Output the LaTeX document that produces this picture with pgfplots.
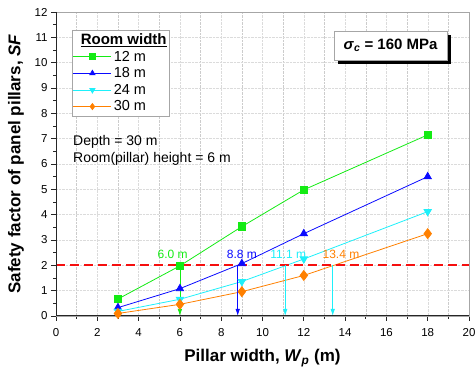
\documentclass[border=0pt]{standalone}
\usepackage{pgfplots}
\pgfplotsset{compat=1.18}
\usepackage{fontspec}
\setmainfont{Liberation Sans}
\usetikzlibrary{arrows.meta,shadows}
\definecolor{cgreen}{RGB}{20,235,20}
\definecolor{cblue}{RGB}{10,10,255}
\definecolor{ccyan}{RGB}{30,240,250}
\definecolor{corange}{RGB}{255,128,0}
\definecolor{cred}{RGB}{245,15,15}
\begin{document}
\begin{tikzpicture}
\begin{axis}[
  name=ax, set layers,
  scale only axis, width=413pt, height=304pt,
  xmin=0, xmax=20, ymin=0, ymax=12,
  xtick={0,2,...,20}, ytick={0,1,...,12},
  minor x tick num=1, minor y tick num=1,
  xmajorgrids, xminorgrids, ymajorgrids,
  tick align=outside, xtick pos=left, ytick pos=left,
  major tick length=5pt, minor tick length=3pt,
  major tick style={black!85, line width=0.8pt},
  minor tick style={black!85, line width=0.8pt},
  major grid style={densely dotted, draw=gray!28, line width=0.4pt},
  minor grid style={densely dotted, draw=gray!40, line width=0.4pt},
  axis line style={gray!70, line width=0.6pt},
  ticklabel style={font=\fontsize{11.5}{13}\selectfont},
  xticklabel style={yshift=-4pt},
  /pgf/number format/assume math mode=true,
  xlabel={Pillar width, \textit{W}\textsubscript{\textit{p}} (m)},
  ylabel={Safety factor of panel pillars, \textit{SF}},
  label style={font=\fontsize{17}{20}\selectfont\bfseries},
  xlabel style={yshift=-6pt},
  ylabel style={yshift=4pt},
  legend style={at={(axis cs:0.76,11.3)}, anchor=north west, draw=gray!70, line width=0.6pt,
    font=\fontsize{14.5}{17}\selectfont, cells={anchor=west}, row sep=1pt,
    inner xsep=1pt, inner ysep=1.5pt},
  legend image code/.code={\draw[mark repeat=2,mark phase=2,mark size=3pt,#1] plot coordinates {(0pt,0pt) (19pt,0pt) (38pt,0pt)};},
]
\addlegendimage{empty legend}
\addlegendentry{\hspace{-33pt}{\fontsize{15}{17}\selectfont\textbf{\underline{Room width}}}}

\addplot[cgreen, line width=0.8pt, mark=square*, mark size=3.8pt, mark options={solid, fill=cgreen}]
  coordinates {(3,0.67) (6,1.98) (9,3.53) (12,4.98) (18,7.15)};
\addlegendentry{12 m}
\addplot[cblue, line width=0.8pt, mark=triangle*, mark size=4.2pt, mark options={solid, fill=cblue}]
  coordinates {(3,0.33) (6,1.08) (9,2.07) (12,3.25) (18,5.5)};
\addlegendentry{18 m}
\addplot[ccyan, line width=0.8pt, mark=triangle*, mark size=4.2pt, mark options={solid, fill=ccyan, rotate=180}]
  coordinates {(3,0.18) (6,0.66) (9,1.36) (12,2.25) (18,4.12)};
\addlegendentry{24 m}
\addplot[corange, line width=0.8pt, mark=diamond*, mark size=5pt, mark options={solid, fill=corange}]
  coordinates {(3,0.1) (6,0.46) (9,0.96) (12,1.6) (18,3.25)};
\addlegendentry{30 m}

\addplot[cred, line width=1.8pt, dash pattern=on 9pt off 5pt] coordinates {(0,2) (20,2)};

\addplot[cgreen, line width=0.8pt, -{Latex[length=7pt,width=4.5pt]}] coordinates {(6,2) (6,0)};
\addplot[cblue, line width=0.8pt, -{Latex[length=7pt,width=4.5pt]}] coordinates {(8.8,2) (8.8,0)};
\addplot[ccyan, line width=0.8pt, -{Latex[length=7pt,width=4.5pt]}] coordinates {(11.1,2) (11.1,0)};
\addplot[ccyan, line width=0.8pt, -{Latex[length=7pt,width=4.5pt]}] coordinates {(13.4,2) (13.4,0)};

\draw[black!85, line width=1.2pt] (rel axis cs:0,1) -- (rel axis cs:0,0) -- (rel axis cs:1,0);

\node[cgreen, font=\fontsize{12}{14}\selectfont] at (axis cs:5.65,2.45) {6.0 m};
\node[cblue, font=\fontsize{12}{14}\selectfont] at (axis cs:9.0,2.45) {8.8 m};
\node[ccyan, font=\fontsize{12}{14}\selectfont] at (axis cs:11.25,2.45) {11.1 m};
\node[corange, font=\fontsize{12}{14}\selectfont] at (axis cs:13.8,2.45) {13.4 m};

\node[anchor=west, align=left, font=\fontsize{14}{16.7}\selectfont] at (axis cs:0.66,6.55)
  {Depth = 30 m\\Room(pillar) height = 6 m};

\node[draw=gray!70, fill=white, line width=0.6pt,
  drop shadow={shadow xshift=4pt, shadow yshift=-4pt, fill=black, opacity=1},
  minimum width=113pt, minimum height=29pt, font=\fontsize{15}{18}\selectfont\bfseries]
  at (axis cs:16.2,10.67) {\textit{σ}\textsubscript{\textit{c}} = 160 MPa};
\end{axis}
\pgfresetboundingbox
\path ([xshift=-56pt,yshift=-55pt]ax.south west) rectangle ([xshift=7pt,yshift=12pt]ax.north east);
\end{tikzpicture}
\end{document}
